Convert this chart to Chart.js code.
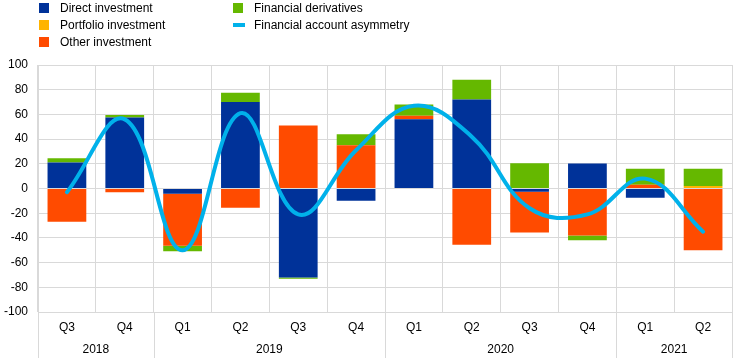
<!DOCTYPE html>
<html>
<head>
<meta charset="utf-8">
<script src="https://cdn.jsdelivr.net/npm/chart.js@4/dist/chart.umd.min.js"></script>
<style>
  html, body { margin: 0; padding: 0; background: #fff; }
  #wrap { position: relative; width: 744px; height: 361px; }
  canvas { position: absolute; left: 0; top: 0; }
  .lg { position: absolute; font: 12px "Liberation Sans", Arial, sans-serif; color: #000; white-space: nowrap; line-height: 14px; }
  .sw { position: absolute; width: 10px; height: 10px; }
  .ln { position: absolute; width: 12px; height: 4px; }
</style>
</head>
<body>
<div id="wrap">
  <canvas id="c" width="744" height="361"></canvas>
</div>
<script>
const categories = ['Q3','Q4','Q1','Q2','Q3','Q4','Q1','Q2','Q3','Q4','Q1','Q2'];
const years = ['2018','2019','2020','2021'];
const yearSpans = [2, 4, 4, 2];
const directInvestment   = [21, 57.5, -4.3, 70, -72, -10, 56, 72, -2.7, 20.3, -7.5, 0];
const portfolioInvestment = [0, 0, 0, 0, 0, 0, 0, 0, 0, 0, 0, 2];
const otherInvestment    = [-27, -3, -42, -15.5, 51, 35, 3, -45.6, -33, -38, 3, -50];
const financialDerivatives = [3.5, 2, -4.6, 7.5, -1, 9, 9, 16, 20.5, -4, 13, 14];
const accountAsymmetry   = [-3, 56, -50, 61, -21, 31, 67, 42, -16, -21, 8, -35];
const yTicks = [100, 80, 60, 40, 20, 0, -20, -40, -60, -80, -100];

const COLORS = {
  direct: '#003299', portfolio: '#ffb400', other: '#ff4b00', deriv: '#65b800', line: '#00b1ea'
};
const FONT = '"Liberation Sans", Arial, sans-serif';
const GRID = '#d9d9d9';

// legend (HTML text)
const legendItems = [
  {t:'Direct investment', c:COLORS.direct, x:39, y:3, type:'box'},
  {t:'Portfolio investment', c:COLORS.portfolio, x:39, y:20, type:'box'},
  {t:'Other investment', c:COLORS.other, x:39, y:37, type:'box'},
  {t:'Financial derivatives', c:COLORS.deriv, x:233, y:3, type:'box'},
  {t:'Financial account asymmetry', c:COLORS.line, x:233, y:20, type:'line'}
];
const wrap = document.getElementById('wrap');
legendItems.forEach(it => {
  const m = document.createElement('div');
  if (it.type === 'box') { m.className = 'sw'; m.style.left = it.x + 'px'; m.style.top = it.y + 'px'; }
  else { m.className = 'ln'; m.style.left = it.x + 'px'; m.style.top = (it.y + 3) + 'px'; }
  m.style.background = it.c;
  wrap.appendChild(m);
  const l = document.createElement('div');
  l.className = 'lg'; l.textContent = it.t;
  l.style.left = (it.x + 21) + 'px'; l.style.top = (it.y - 2) + 'px';
  wrap.appendChild(l);
});

const yearPlugin = {
  id: 'years',
  afterDraw(chart) {
    const ctx = chart.ctx, xs = chart.scales.x, area = chart.chartArea;
    const half = (xs.getPixelForValue(1) - xs.getPixelForValue(0)) / 2;
    ctx.save();
    ctx.strokeStyle = GRID; ctx.lineWidth = 1;
    ctx.fillStyle = '#000'; ctx.font = '12px ' + FONT;
    ctx.textAlign = 'center'; ctx.textBaseline = 'middle';
    let idx = 0;
    const bounds = [];
    years.forEach((yr, g) => {
      const first = idx, last = idx + yearSpans[g] - 1;
      const left = xs.getPixelForValue(first) - half;
      const right = xs.getPixelForValue(last) + half;
      if (g === 0) bounds.push(left);
      bounds.push(right);
      ctx.fillText(yr, (left + right) / 2, 350);
      idx += yearSpans[g];
    });
    bounds.forEach(b => {
      const x = Math.round(b) + 0.5;
      ctx.beginPath(); ctx.moveTo(x, area.bottom); ctx.lineTo(x, 358); ctx.stroke();
    });
    ctx.restore();
  }
};

new Chart(document.getElementById('c'), {
  data: {
    labels: categories,
    datasets: [
      { type: 'line', label: 'Financial account asymmetry', data: accountAsymmetry, borderColor: COLORS.line,
        backgroundColor: COLORS.line, borderWidth: 4, pointRadius: 0, tension: 0.4, stack: 'line', order: 0,
        borderCapStyle: 'round' },
      { type: 'bar', label: 'Direct investment', data: directInvestment, backgroundColor: COLORS.direct, stack: 's', order: 1 },
      { type: 'bar', label: 'Portfolio investment', data: portfolioInvestment, backgroundColor: COLORS.portfolio, stack: 's', order: 1 },
      { type: 'bar', label: 'Other investment', data: otherInvestment, backgroundColor: COLORS.other, stack: 's', order: 1 },
      { type: 'bar', label: 'Financial derivatives', data: financialDerivatives, backgroundColor: COLORS.deriv, stack: 's', order: 1 }
    ]
  },
  options: {
    responsive: false,
    animation: false,
    devicePixelRatio: 1,
    datasets: { bar: { barPercentage: 0.67, categoryPercentage: 1 } },
    layout: { padding: { top: 65, right: 12, left: 0, bottom: 0 } },
    plugins: { legend: { display: false }, tooltip: { enabled: false } },
    scales: {
      x: {
        stacked: true,
        grid: { color: GRID, drawTicks: false, offset: true },
        border: { color: GRID },
        ticks: { color: '#000', font: { family: FONT, size: 12 }, padding: 8, maxRotation: 0, autoSkip: false },
        afterFit(s) { s.height = 49; }
      },
      y: {
        stacked: true,
        min: -100, max: 100,
        afterBuildTicks(s) { s.ticks = yTicks.map(v => ({ value: v })); },
        grid: { color: GRID, drawTicks: false },
        border: { color: GRID },
        ticks: { color: '#000', font: { family: FONT, size: 12 }, padding: 10 },
        afterFit(s) { s.width = 38; }
      }
    }
  },
  plugins: [yearPlugin]
});
</script>
</body>
</html>
